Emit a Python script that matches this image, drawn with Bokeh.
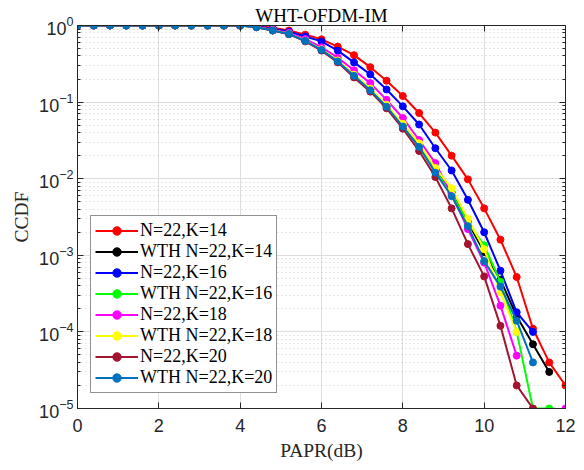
import numpy as np
from bokeh.plotting import figure
from bokeh.models import (LinearAxis, Legend, LegendItem,
                          Range1d, FixedTicker, CustomJSTickFormatter)
from bokeh.embed import file_html
from bokeh.resources import INLINE

nan = float("nan")

papr = [0.0, 0.4, 0.8, 1.2, 1.6, 2.0, 2.4, 2.8, 3.2, 3.6, 4.0, 4.4, 4.8, 5.2,
        5.6, 6.0, 6.4, 6.8, 7.2, 7.6, 8.0, 8.4, 8.8, 9.2, 9.6, 10.0, 10.4,
        10.8, 11.2, 11.6, 12.0]

head = [1.0] * 10

ccdf_k14 = head + [0.999, 0.985, 0.935, 0.86, 0.76, 0.66, 0.53, 0.41, 0.286,
                   0.19, 0.12, 0.072, 0.040, 0.020, 0.0098, 0.0041, 0.0016,
                   5.2e-4, 1.1e-4, 4e-5, 2e-5]
ccdf_wth_k14 = head + [0.998, 0.955, 0.865, 0.78, 0.635, 0.485, 0.345, 0.225,
                       0.147, 0.09, 0.05, 0.027, 0.013, 0.0066, 0.0027, 0.0011,
                       4.8e-4, 1.6e-4, 6.9e-5, 3e-5, nan]
ccdf_k16 = head + [0.998, 0.98, 0.91, 0.83, 0.72, 0.62, 0.47, 0.33, 0.23,
                   0.146, 0.088, 0.051, 0.025, 0.0128, 0.0053, 0.0020, 6.3e-4,
                   1.8e-4, 1.0e-4, nan, nan]
ccdf_wth_k16 = head + [0.998, 0.955, 0.865, 0.78, 0.635, 0.485, 0.345, 0.223,
                       0.146, 0.089, 0.05, 0.027, 0.0128, 0.0064, 0.0027,
                       0.00135, 4.5e-4, 1.0e-4, 1e-5, 1e-5, nan]
ccdf_k18 = head + [0.997, 0.965, 0.88, 0.80, 0.665, 0.52, 0.38, 0.26, 0.177,
                   0.107, 0.062, 0.032, 0.016, 0.0062, 0.0022, 8e-4, 2.2e-4,
                   4.9e-5, nan, nan, 1e-5]
ccdf_wth_k18 = head + [0.998, 0.955, 0.865, 0.78, 0.635, 0.488, 0.35, 0.228,
                       0.15, 0.092, 0.052, 0.029, 0.0138, 0.0075, 0.003,
                       0.0012, 3.3e-4, 1.0e-4, nan, nan, nan]
ccdf_k20 = head + [0.997, 0.95, 0.86, 0.77, 0.62, 0.47, 0.33, 0.21, 0.137,
                   0.083, 0.045, 0.023, 0.0105, 0.0041, 0.0014, 5.3e-4,
                   1.2e-4, 2e-5, 1e-5, nan, nan]
ccdf_wth_k20 = head + [0.998, 0.95, 0.86, 0.775, 0.63, 0.48, 0.34, 0.22,
                       0.143, 0.087, 0.048, 0.026, 0.012, 0.0059, 0.0024,
                       8.4e-4, 3.9e-4, 1.4e-4, 4e-5, nan, nan]

series_labels = ["N=22,K=14", "WTH N=22,K=14", "N=22,K=16", "WTH N=22,K=16",
                 "N=22,K=18", "WTH N=22,K=18", "N=22,K=20", "WTH N=22,K=20"]
series_values = [ccdf_k14, ccdf_wth_k14, ccdf_k16, ccdf_wth_k16,
                 ccdf_k18, ccdf_wth_k18, ccdf_k20, ccdf_wth_k20]
series_colors = ["#ff0000", "#000000", "#0000ff", "#00ff00",
                 "#ff00ff", "#ffff00", "#a2142f", "#0072bd"]

x_ticks = [0, 2, 4, 6, 8, 10, 12]
y_ticks = [1e-5, 1e-4, 1e-3, 1e-2, 1e-1, 1.0]
y_minor = [m * d for d in [1e-5, 1e-4, 1e-3, 1e-2, 1e-1] for m in range(2, 10)]

AX = "#262626"

p = figure(width=584, height=470, y_axis_type="log",
           x_range=Range1d(0, 12), y_range=Range1d(1e-5, 1.0),
           output_backend="svg", toolbar_location=None,
           min_border_left=77, min_border_right=19,
           min_border_top=25, min_border_bottom=62)
p.background_fill_color = "white"
p.border_fill_color = "white"
p.outline_line_color = AX
p.outline_line_width = 1

p.title.text = "WHT-OFDM-IM"
p.title.align = "center"
p.title.text_font = "Liberation Serif"
p.title.text_font_size = "19px"
p.title.text_font_style = "normal"
p.title.text_color = "#000000"
p.title.standoff = 0
p.title.offset = -4

yt = FixedTicker(ticks=y_ticks, minor_ticks=y_minor)
xt = FixedTicker(ticks=x_ticks)
p.xaxis.ticker = xt
p.yaxis.ticker = yt
p.xgrid.ticker = xt
p.ygrid.ticker = yt

p.xgrid.grid_line_color = "#dedede"
p.ygrid.grid_line_color = "#dedede"
p.ygrid.minor_grid_line_color = "#cccccc"
p.ygrid.minor_grid_line_dash = "1 3"

for ax in [p.xaxis[0], p.yaxis[0]]:
    ax.axis_line_color = AX
    ax.major_tick_line_color = AX
    ax.minor_tick_line_color = AX
    ax.major_tick_in = 6
    ax.major_tick_out = 0
    ax.minor_tick_in = 3
    ax.minor_tick_out = 0
    ax.major_label_text_font = "Liberation Sans"
    ax.major_label_text_font_size = "18px"
    ax.major_label_text_color = AX
    ax.axis_label_text_font = "Liberation Serif"
    ax.axis_label_text_font_size = "19.5px"
    ax.axis_label_text_font_style = "normal"
    ax.axis_label_text_color = AX

p.xaxis.axis_label = "PAPR(dB)"
p.yaxis.axis_label = "CCDF"
p.xaxis.major_label_standoff = 10
p.xaxis.axis_label_standoff = 5
p.yaxis.major_label_standoff = 4
p.yaxis.axis_label_standoff = 4

blank = CustomJSTickFormatter(code="return ' ';")
ra = LinearAxis(ticker=yt, formatter=blank, major_label_text_font_size="2px",
                major_label_standoff=0, major_label_text_color=None,
                major_tick_in=6, major_tick_out=0, minor_tick_in=3, minor_tick_out=0,
                axis_line_color=AX, major_tick_line_color=AX, minor_tick_line_color=AX)
ta = LinearAxis(ticker=xt, formatter=blank, major_label_text_font_size="2px",
                major_label_standoff=0, major_label_text_color=None,
                major_tick_in=6, major_tick_out=0,
                axis_line_color=AX, major_tick_line_color=AX)
p.add_layout(ra, "right")
p.add_layout(ta, "above")

items = []
for lab, vals, col in zip(series_labels, series_values, series_colors):
    y = np.array(vals, dtype=float)
    r1 = p.line(papr, y, line_color=col, line_width=2)
    r2 = p.scatter(papr, y, size=7, fill_color=col, line_color=col, marker="circle")
    items.append(LegendItem(label=lab, renderers=[r1, r2]))

legend = Legend(items=items, location=(13, 15),
                label_text_font="Liberation Serif", label_text_font_size="18px",
                label_text_color="#000000",
                glyph_width=43, glyph_height=21, label_height=21, spacing=0,
                padding=4, margin=0, label_standoff=2,
                border_line_color=AX, border_line_width=1,
                background_fill_color="white", background_fill_alpha=1.0)
p.add_layout(legend)

open("out.html", "w").write(file_html(p, INLINE))
